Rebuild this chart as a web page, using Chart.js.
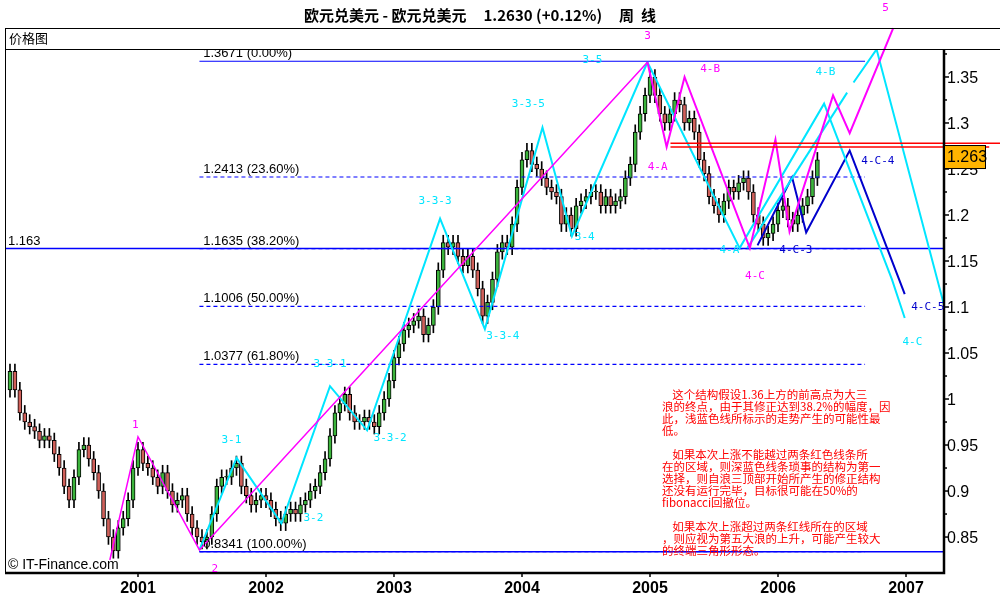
<!DOCTYPE html>
<html><head><meta charset="utf-8">
<script src="https://cdn.jsdelivr.net/npm/chart.js@4/dist/chart.umd.min.js"></script>
<style>html,body{margin:0;background:#fff}#w{width:1000px;height:600px}</style>
</head><body><div id="w"><canvas id="c"></canvas></div>
<script>
// ---- data ----
const startYear = 2000;
const periodsPerYear = 26;
const closes = [
 1.03,1.01,0.985,0.975,0.97,0.965,0.955,0.96,0.955,0.94,0.925,0.905,0.89,0.915,0.945,0.95,0.935,0.92,0.9,0.87,0.85,0.835,0.86,0.87,0.89,0.925,
 0.945,0.93,0.925,0.915,0.905,0.92,0.9,0.885,0.89,0.895,0.875,0.86,0.85,0.845,0.85,0.875,0.905,0.915,0.915,0.925,0.93,0.905,0.895,0.885,0.89,0.895,
 0.89,0.88,0.87,0.865,0.875,0.88,0.875,0.885,0.89,0.9,0.905,0.92,0.935,0.96,0.985,0.995,1.005,0.985,0.975,0.975,0.98,0.975,0.97,0.985,1.0,1.02,
 1.045,1.06,1.075,1.08,1.085,1.09,1.07,1.08,1.1,1.14,1.17,1.165,1.17,1.155,1.145,1.155,1.14,1.12,1.09,1.105,1.13,1.16,1.17,1.165,1.19,1.23,
 1.26,1.27,1.255,1.25,1.24,1.23,1.225,1.22,1.19,1.2,1.185,1.21,1.215,1.22,1.225,1.225,1.21,1.22,1.21,1.215,1.22,1.24,1.255,1.29,1.31,1.33,
 1.35,1.33,1.31,1.3,1.31,1.325,1.32,1.30,1.305,1.29,1.26,1.245,1.22,1.21,1.2,1.215,1.23,1.225,1.235,1.24,1.225,1.2,1.19,1.175,1.18,1.19,
 1.205,1.21,1.195,1.19,1.2,1.21,1.22,1.24,1.26
];
const firstOpen = 1.01;
const wick = 0.008;

const waveMain = [[2000.78,0.825],[2001.0,0.959],[2001.48,0.836],[2004.98,1.366]];
const waveMagenta4 = [[2004.98,1.366],[2005.13,1.274],[2005.27,1.35],[2005.78,1.164],[2005.98,1.282],[2006.09,1.182],[2006.43,1.33],[2006.56,1.289],[2006.9,1.403]];
const waveCyan3 = [[2001.48,0.836],[2001.77,0.936],[2002.12,0.865],[2002.5,1.014],[2002.79,0.966],[2003.36,1.196],[2003.71,1.076],[2004.16,1.295],[2004.39,1.177],[2004.98,1.366]];
const waveCyan4 = [[2004.98,1.366],[2005.7,1.164],[2006.36,1.321],[2006.89,1.13],[2006.99,1.088]];
const waveCyan4b = [[2005.76,1.164],[2006.54,1.333]];
const waveCyan4c = [[2006.59,1.344],[2006.77,1.38],[2007.32,1.09]];
const waveBlue = [[2005.84,1.167],[2006.11,1.241],[2006.22,1.181],[2006.56,1.27],[2006.99,1.114]];
const fibLevels = [1.3671,1.2413,1.1635,1.1006,1.0377,0.8341];
const fibLabels = ['1.3671 (0.00%)','1.2413 (23.60%)','1.1635 (38.20%)','1.1006 (50.00%)','1.0377 (61.80%)','0.8341 (100.00%)'];
const redLevels = [1.278,1.274];
const yTicks = [0.85,0.9,0.95,1,1.05,1.1,1.15,1.2,1.25,1.3,1.35];
const yTickLabels = ['0.85','0.9','0.95','1','1.05','1.1','1.15','1.2','1.25','1.3','1.35'];
const xTicks = [2001,2002,2003,2004,2005,2006,2007];
const lastPrice = 1.263;
const magentaLabels = [['1',2000.98,0.972],['2',2001.6,0.815],['3',2004.98,1.394],['5',2006.84,1.425],['4-A',2005.06,1.252],['4-B',2005.47,1.359],['4-C',2005.82,1.133]];
const cyanLabels = [['3-1',2001.73,0.955],['3-2',2002.37,0.87],['3-3-1',2002.5,1.038],['3-3-2',2002.97,0.957],['3-3-3',2003.32,1.215],['3-3-4',2003.85,1.068],['3-3-5',2004.05,1.32],['3-4',2004.49,1.176],['3-5',2004.55,1.368],['4-A',2005.62,1.162],['4-B',2006.37,1.355],['4-C',2007.05,1.062]];
const blueLabels = [['4-C-3',2006.14,1.162],['4-C-4',2006.78,1.258],['4-C-5',2007.17,1.1]];
const noteLines = [
 ['    这个结构假设1.36上方的前高点为大三',0],['浪的终点，由于其修正达到38.2%的幅度，因',1],['此，浅蓝色线所标示的走势产生的可能性最',2],['低。',3],
 ['    如果本次上涨不能越过两条红色线条所',5],['在的区域，则深蓝色线条琐事的结构为第一',6],['选择，则自浪三顶部开始所产生的修正结构',7],['还没有运行完毕，目标很可能在50%的',8],['fibonacci回撤位。',9],
 ['    如果本次上涨超过两条红线所在的区域',11],['，则应视为第五大浪的上升，可能产生较大',12],['的终端三角形形态。',13]
];

// ---- build ----
const wicks=[], bodies=[], bodyColors=[];
let prev = firstOpen;
closes.forEach((c,i)=>{
  const x = startYear + i/periodsPerYear;
  const o = prev;
  wicks.push({x, y:[Math.min(o,c)-wick, Math.max(o,c)+wick]});
  bodies.push({x, y:[o,c]});
  bodyColors.push(c>=o ? '#3cb43c' : '#d0605a');
  prev = c;
});
const pts = a => a.map(p=>({x:p[0],y:p[1]}));
const lineDs = (d,color,w,extra) => Object.assign({type:'line',data:pts(d),borderColor:color,borderWidth:w,pointRadius:0,tension:0,order:1,fill:false},extra||{});
const XMIN=1999.961, XMAX=2007.289;
const datasets = [
  {type:'bar',data:wicks,backgroundColor:'#000',barThickness:1,grouped:false,order:10},
  {type:'bar',data:bodies,backgroundColor:bodyColors,borderColor:'#000',borderWidth:1,borderSkipped:false,barThickness:4,grouped:false,order:9,minBarLength:1},
];
fibLevels.forEach((v,i)=>{
  datasets.push(lineDs([[2001.48,v],[2006.68,v]],'#0000ff',1.2,{borderDash: (i===0)?[]:[4,3],order:5}));
});
datasets.push(lineDs([[XMIN,1.1635],[XMAX,1.1635]],'#0000ff',1.5,{order:5}));
datasets.push(lineDs([[2001.48,0.8341],[XMAX,0.8341]],'#0000ff',1.5,{order:5}));
datasets.push(lineDs([[2005.16,redLevels[0]],[2007.75,redLevels[0]]],'#ff0000',1.5,{clip:{left:0,top:0,right:60,bottom:0}}));
datasets.push(lineDs([[2005.16,redLevels[1]],[2007.65,redLevels[1]]],'#ff0000',1.5,{clip:{left:0,top:0,right:60,bottom:0}}));
datasets.push(lineDs(waveMain,'#ff00ff',1.5));
datasets.push(lineDs(waveMagenta4,'#ff00ff',2,{clip:{left:0,top:25,right:0,bottom:0}}));
datasets.push(lineDs(waveCyan3,'#00e5ff',2));
datasets.push(lineDs(waveCyan4,'#00e5ff',2));
datasets.push(lineDs(waveCyan4b,'#00e5ff',2));
datasets.push(lineDs(waveCyan4c,'#00e5ff',2));
datasets.push(lineDs(waveBlue,'#0000cc',2));

const deco = {
  id:'deco',
  afterDraw(ch){
    const c=ch.ctx, xs=ch.scales.x, ys=ch.scales.y, a=ch.chartArea;
    c.save();
    c.fillStyle='#000'; c.textBaseline='middle'; c.textAlign='center';
    c.font='bold 15px "Noto Sans CJK SC"';
    c.fillText('欧元兑美元 - 欧元兑美元     1.2630 (+0.12%)     周  线',480,15);
    c.strokeStyle='#000'; c.lineWidth=1;
    c.strokeRect(5.5,28.5,1000,21);
    c.beginPath(); c.moveTo(5.5,28);c.lineTo(5.5,a.bottom); c.stroke();
    c.textAlign='left'; c.font='13px "Noto Sans CJK SC"';
    c.fillText('价格图',9,38);
    c.lineWidth=2.5;
    c.beginPath(); c.moveTo(a.right+1,49); c.lineTo(a.right+1,a.bottom+1); c.lineTo(5,a.bottom+1); c.stroke();
    c.lineWidth=1.5;
    c.font='16px "Liberation Sans"'; c.textAlign='left';
    yTicks.forEach((v,i)=>{
      const y=ys.getPixelForValue(v);
      c.beginPath(); c.moveTo(a.right,y); c.lineTo(a.right+6,y); c.stroke();
      const ym=ys.getPixelForValue(v+0.025);
      if(ym>a.top){c.beginPath(); c.moveTo(a.right,ym); c.lineTo(a.right+4,ym); c.stroke();}
      c.fillText(yTickLabels[i],a.right+4,y+2);
    });
    c.textAlign='center';
    xTicks.forEach(v=>{
      const x=xs.getPixelForValue(v);
      c.beginPath(); c.moveTo(x,a.bottom); c.lineTo(x,a.bottom+5); c.stroke();
      c.font='bold 16px "Liberation Sans"';
      c.fillText(String(v),x,589);
    });
    const yp=ys.getPixelForValue(lastPrice);
    c.fillStyle='#ffb400'; c.fillRect(a.right+1,yp-12,42,24);
    c.strokeStyle='#000'; c.lineWidth=1; c.strokeRect(a.right+1.5,yp-11.5,41,23);
    c.fillStyle='#000'; c.textAlign='left'; c.font='16px "Liberation Sans"';
    c.fillText(lastPrice.toFixed(3),a.right+4,yp+1);
    c.save(); c.beginPath(); c.rect(a.left,a.top,a.right-a.left,a.bottom-a.top); c.clip();
    c.font='13px "Liberation Sans"'; c.textBaseline='alphabetic'; c.fillStyle='#000';
    fibLevels.forEach((v,i)=>{ c.fillText(fibLabels[i],xs.getPixelForValue(2001.51),ys.getPixelForValue(v)-4); });
    c.fillText('1.163',8,ys.getPixelForValue(1.1635)-4);
    c.restore();
    c.font='11px "DejaVu Sans Mono"'; c.textAlign='center'; c.textBaseline='middle';
    const lab=(arr,col)=>arr.forEach(l=>{c.fillStyle=col; c.fillText(l[0],xs.getPixelForValue(l[1]),ys.getPixelForValue(l[2]));});
    lab(magentaLabels,'#ff00ff'); lab(cyanLabels,'#00e5ff'); lab(blueLabels,'#0000cc');
    c.fillStyle='#000'; c.textAlign='left'; c.font='14px "Liberation Sans"';
    c.fillText('© IT-Finance.com',8,565);
    c.fillStyle='#ff0000'; c.font='11.5px "Noto Sans CJK SC"'; c.textBaseline='middle';
    noteLines.forEach(l=>c.fillText(l[0],662,395+l[1]*12));
    c.restore();
  }
};

new Chart(document.getElementById('c'),{
  type:'bar',
  data:{datasets},
  options:{
    responsive:true, maintainAspectRatio:false, animation:false,
    layout:{padding:{left:5,top:49,right:57,bottom:28}},
    plugins:{legend:{display:false},tooltip:{enabled:false}},
    scales:{
      x:{type:'linear',min:XMIN,max:XMAX,display:false,offset:false},
      y:{type:'linear',min:0.812,max:1.3804,display:false}
    }
  },
  plugins:[deco]
});
</script></body></html>
